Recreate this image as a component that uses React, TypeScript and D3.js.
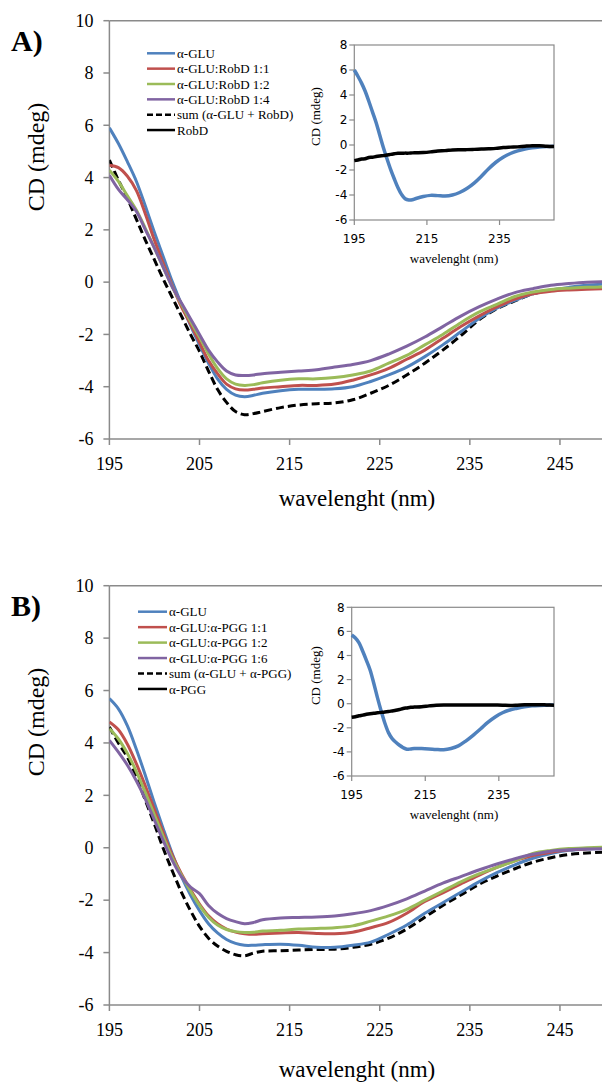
import React, { useEffect, useRef } from 'react';
import * as d3 from 'd3';

// wavelength grid (nm)
const WL = [195, 196, 197, 198, 199, 200, 201, 202, 203, 204, 205, 206, 207, 208, 209, 210, 211, 212,
  214, 216, 218, 220, 222, 224, 226, 228, 230, 232, 234, 236, 238, 240, 242, 244, 246, 248, 250];

const X_TICKS = [195, 205, 215, 225, 235, 245];
const Y_TICKS = [-6, -4, -2, 0, 2, 4, 6, 8, 10];
const INSET_X_TICKS = [195, 215, 235];
const INSET_Y_TICKS = [-6, -4, -2, 0, 2, 4, 6, 8];

// panel A
const A_GLU = [5.9, 5.3, 4.6, 3.85, 2.9, 1.9, 0.95, 0.0, -0.85, -1.65, -2.4, -3.1, -3.7, -4.1, -4.32, -4.38, -4.33, -4.25,
  -4.15, -4.1, -4.1, -4.08, -4.0, -3.8, -3.55, -3.25, -2.85, -2.4, -1.9, -1.4, -1.0, -0.7, -0.45, -0.3, -0.2, -0.12, -0.08];
const A_ROB11 = [4.47, 4.38, 4.05, 3.5, 2.6, 1.6, 0.7, -0.15, -0.95, -1.6, -2.3, -3.0, -3.5, -3.9, -4.08, -4.13, -4.1, -4.05,
  -4.0, -3.95, -3.95, -3.9, -3.75, -3.55, -3.3, -2.95, -2.6, -2.15, -1.7, -1.3, -0.95, -0.65, -0.45, -0.35, -0.3, -0.27, -0.25];
const A_ROB12 = [4.28, 3.85, 3.3, 2.75, 2.05, 1.3, 0.55, -0.2, -0.85, -1.5, -2.1, -2.75, -3.3, -3.7, -3.9, -3.95, -3.92, -3.85,
  -3.75, -3.7, -3.7, -3.65, -3.55, -3.4, -3.1, -2.8, -2.4, -2.0, -1.55, -1.15, -0.85, -0.55, -0.38, -0.28, -0.23, -0.2, -0.18];
const A_ROB14 = [4.09, 3.55, 3.15, 2.7, 2.0, 1.3, 0.55, -0.2, -0.8, -1.4, -2.0, -2.6, -3.05, -3.4, -3.55, -3.57, -3.55, -3.5,
  -3.45, -3.4, -3.35, -3.25, -3.15, -3.0, -2.75, -2.45, -2.1, -1.7, -1.3, -0.95, -0.65, -0.4, -0.25, -0.12, -0.05, 0.0, 0.02];
const A_SUM = [4.67, 3.9, 3.2, 2.4, 1.6, 0.85, 0.1, -0.6, -1.3, -2.0, -2.65, -3.4, -4.1, -4.6, -4.95, -5.07, -5.03, -4.95,
  -4.8, -4.7, -4.65, -4.62, -4.5, -4.25, -3.95, -3.55, -3.1, -2.6, -2.05, -1.45, -1.02, -0.72, -0.45, -0.32, -0.26, -0.22, -0.2];
const A_INSET_GLU = [6.0, 5.5, 4.95, 4.3, 3.5, 2.65, 1.8, 0.8, -0.2, -1.1, -1.95, -2.7, -3.4, -3.95, -4.3, -4.4, -4.38, -4.28,
  -4.12, -4.03, -4.05, -4.08, -4.0, -3.8, -3.48, -3.05, -2.5, -1.9, -1.38, -0.98, -0.68, -0.47, -0.33, -0.23, -0.17, -0.13, -0.1];
const A_INSET_ROBD = [-1.25, -1.2, -1.12, -1.1, -1.0, -0.98, -0.92, -0.88, -0.85, -0.8, -0.75, -0.7, -0.66, -0.66, -0.65, -0.65, -0.63, -0.62,
  -0.6, -0.55, -0.48, -0.45, -0.4, -0.38, -0.37, -0.35, -0.32, -0.3, -0.27, -0.2, -0.17, -0.15, -0.1, -0.06, -0.06, -0.1, -0.12];
const A_LEGEND = ['α-GLU', 'α-GLU:RobD 1:1', 'α-GLU:RobD 1:2', 'α-GLU:RobD 1:4', 'sum (α-GLU + RobD)', 'RobD'];

// panel B
const B_GLU = [5.69, 5.3, 4.65, 3.75, 2.75, 1.7, 0.7, -0.25, -1.1, -1.8, -2.4, -2.9, -3.25, -3.5, -3.65, -3.72, -3.72, -3.7,
  -3.68, -3.72, -3.8, -3.8, -3.72, -3.6, -3.3, -2.95, -2.5, -2.1, -1.7, -1.3, -0.95, -0.65, -0.4, -0.22, -0.1, -0.05, -0.03];
const B_PGG11 = [4.8, 4.5, 3.95, 3.2, 2.35, 1.45, 0.55, -0.3, -1.0, -1.6, -2.15, -2.6, -2.9, -3.1, -3.22, -3.28, -3.3, -3.28,
  -3.25, -3.23, -3.27, -3.28, -3.22, -3.05, -2.85, -2.5, -2.05, -1.72, -1.38, -1.05, -0.75, -0.5, -0.3, -0.17, -0.08, -0.04, -0.02];
const B_PGG12 = [4.55, 4.15, 3.6, 2.9, 2.1, 1.25, 0.4, -0.4, -1.05, -1.65, -2.2, -2.65, -2.95, -3.12, -3.2, -3.23, -3.22, -3.18,
  -3.15, -3.1, -3.08, -3.05, -2.98, -2.8, -2.6, -2.35, -2.0, -1.65, -1.3, -1.0, -0.75, -0.5, -0.22, -0.1, -0.03, 0.0, 0.02];
const B_PGG16 = [4.1, 3.65, 3.15, 2.55, 1.85, 1.05, 0.25, -0.5, -1.1, -1.5, -1.75, -2.2, -2.5, -2.7, -2.82, -2.9, -2.85, -2.75,
  -2.68, -2.66, -2.64, -2.6, -2.52, -2.4, -2.2, -1.95, -1.65, -1.35, -1.1, -0.85, -0.62, -0.42, -0.25, -0.13, -0.08, -0.05, -0.04];
const B_SUM = [4.61, 4.0, 3.45, 2.7, 1.8, 0.9, -0.05, -0.9, -1.7, -2.4, -3.0, -3.45, -3.75, -3.95, -4.08, -4.12, -4.02, -3.95,
  -3.93, -3.9, -3.88, -3.87, -3.8, -3.68, -3.45, -3.1, -2.65, -2.2, -1.8, -1.4, -1.08, -0.8, -0.55, -0.38, -0.26, -0.2, -0.17];
const B_INSET_GLU = [5.7, 5.45, 5.05, 4.35, 3.6, 2.8, 1.7, 0.5, -0.6, -1.6, -2.4, -2.9, -3.2, -3.45, -3.65, -3.78, -3.76, -3.72,
  -3.72, -3.75, -3.8, -3.82, -3.72, -3.5, -3.1, -2.62, -2.1, -1.55, -1.1, -0.75, -0.52, -0.38, -0.26, -0.18, -0.14, -0.12, -0.1];
const B_INSET_PGG = [-1.13, -1.08, -1.0, -0.95, -0.88, -0.83, -0.8, -0.76, -0.72, -0.68, -0.65, -0.6, -0.55, -0.48, -0.4, -0.35, -0.3, -0.28,
  -0.25, -0.18, -0.12, -0.1, -0.11, -0.11, -0.11, -0.11, -0.1, -0.1, -0.11, -0.12, -0.14, -0.12, -0.09, -0.08, -0.08, -0.1, -0.12];
const B_LEGEND = ['α-GLU', 'α-GLU:α-PGG 1:1', 'α-GLU:α-PGG 1:2', 'α-GLU:α-PGG 1:6', 'sum (α-GLU + α-PGG)', 'α-PGG'];

const COLORS = ['#4F81BD', '#C0504D', '#9BBB59', '#8064A2', '#000000', '#000000'];
const AXIS = '#8a8a8a';
const SERIF = '"Liberation Serif", "Times New Roman", serif';
const SANS = '"DejaVu Sans", sans-serif';

const panels = [
  {
    tag: 'A)',
    series: [A_GLU, A_ROB11, A_ROB12, A_ROB14, A_SUM],
    inset: [A_INSET_GLU, A_INSET_ROBD],
    legend: A_LEGEND,
    main: { x0: 109.4, x1: 605, yTop: 20.7, yBot: 439 },
    ins: { x0: 354.3, x1: 554, yTop: 45, yBot: 220 },
    leg: { x0: 147, x1: 175, y: 53.3, step: 15.35 },
    yTitleY: 157, xTitleY: 506,
  },
  {
    tag: 'B)',
    series: [B_GLU, B_PGG11, B_PGG12, B_PGG16, B_SUM],
    inset: [B_INSET_GLU, B_INSET_PGG],
    legend: B_LEGEND,
    main: { x0: 109.4, x1: 605, yTop: 585.7, yBot: 1005 },
    ins: { x0: 351.7, x1: 554, yTop: 607.3, yBot: 776 },
    leg: { x0: 138, x1: 167, y: 611.7, step: 15.45 },
    yTitleY: 722, xTitleY: 1077,
  },
];

export default function App() {
  const svgRef = useRef<SVGSVGElement>(null);

  useEffect(() => {
    const svg = d3.select(svgRef.current);
    svg.selectAll('*').remove();

    panels.forEach((p) => {
      const g = svg.append('g');
      const x = d3.scaleLinear().domain([195, 250]).range([p.main.x0, p.main.x1]);
      const y = d3.scaleLinear().domain([-6, 10]).range([p.main.yBot, p.main.yTop]);

      // plot border (top) + axes
      g.append('line').attr('x1', p.main.x0).attr('x2', 602).attr('y1', p.main.yTop).attr('y2', p.main.yTop)
        .attr('stroke', AXIS).attr('stroke-width', 1.5);
      g.append('line').attr('x1', p.main.x0).attr('x2', p.main.x0).attr('y1', p.main.yTop).attr('y2', p.main.yBot)
        .attr('stroke', AXIS).attr('stroke-width', 1.5);
      g.append('line').attr('x1', p.main.x0).attr('x2', 602).attr('y1', p.main.yBot).attr('y2', p.main.yBot)
        .attr('stroke', AXIS).attr('stroke-width', 1.5);

      Y_TICKS.forEach((t) => {
        g.append('line').attr('x1', p.main.x0 - 6).attr('x2', p.main.x0).attr('y1', y(t)).attr('y2', y(t))
          .attr('stroke', AXIS).attr('stroke-width', 1.5);
        g.append('text').attr('x', p.main.x0 - 16).attr('y', y(t)).attr('dy', '0.35em')
          .attr('text-anchor', 'end').attr('font-family', SERIF).attr('font-size', 18).text(t);
      });
      X_TICKS.forEach((t) => {
        g.append('line').attr('x1', x(t)).attr('x2', x(t)).attr('y1', p.main.yBot).attr('y2', p.main.yBot + 6)
          .attr('stroke', AXIS).attr('stroke-width', 1.5);
        g.append('text').attr('x', x(t)).attr('y', p.main.yBot + 31)
          .attr('text-anchor', 'middle').attr('font-family', SERIF).attr('font-size', 18).text(t);
      });

      g.append('text').attr('x', 357).attr('y', p.xTitleY).attr('text-anchor', 'middle')
        .attr('font-family', SERIF).attr('font-size', 23).text('wavelenght (nm)');
      g.append('text').attr('transform', `translate(44,${p.yTitleY}) rotate(-90)`).attr('text-anchor', 'middle')
        .attr('font-family', SERIF).attr('font-size', 24).text('CD (mdeg)');
      g.append('text').attr('x', 11).attr('y', p.main.yTop + 30)
        .attr('font-family', SERIF).attr('font-size', 30).attr('font-weight', 'bold').text(p.tag);

      // main curves
      const clipId = `clip-${p.tag[0]}`;
      g.append('clipPath').attr('id', clipId).append('rect')
        .attr('x', p.main.x0).attr('y', p.main.yTop).attr('width', 602 - p.main.x0).attr('height', p.main.yBot - p.main.yTop);
      const line = d3.line<number>().x((_, i) => x(WL[i])).y((d) => y(d)).curve(d3.curveCatmullRom.alpha(0.5));
      const order = [4, 0, 1, 2, 3];
      order.forEach((si) => {
        g.append('path').datum(p.series[si]).attr('d', line)
          .attr('clip-path', `url(#${clipId})`)
          .attr('fill', 'none').attr('stroke', COLORS[si]).attr('stroke-width', 3)
          .attr('stroke-dasharray', si === 4 ? '8,4' : null);
      });

      // legend
      p.legend.forEach((label, i) => {
        const ly = p.leg.y + i * p.leg.step;
        g.append('line').attr('x1', p.leg.x0).attr('x2', p.leg.x1).attr('y1', ly).attr('y2', ly)
          .attr('stroke', COLORS[i]).attr('stroke-width', 2.5)
          .attr('stroke-dasharray', i === 4 ? '6,3' : null);
        g.append('text').attr('x', p.leg.x1 + 2).attr('y', ly).attr('dy', '0.35em')
          .attr('font-family', SERIF).attr('font-size', 13).text(label);
      });

      // inset
      const ix = d3.scaleLinear().domain([195, 250]).range([p.ins.x0, p.ins.x1]);
      const iy = d3.scaleLinear().domain([-6, 8]).range([p.ins.yBot, p.ins.yTop]);
      g.append('rect').attr('x', p.ins.x0).attr('y', p.ins.yTop)
        .attr('width', p.ins.x1 - p.ins.x0).attr('height', p.ins.yBot - p.ins.yTop)
        .attr('fill', '#fff').attr('stroke', AXIS).attr('stroke-width', 1.2);
      INSET_Y_TICKS.forEach((t) => {
        g.append('line').attr('x1', p.ins.x0 - 5).attr('x2', p.ins.x0).attr('y1', iy(t)).attr('y2', iy(t))
          .attr('stroke', AXIS).attr('stroke-width', 1.2);
        g.append('text').attr('x', p.ins.x0 - 7).attr('y', iy(t)).attr('dy', '0.35em')
          .attr('text-anchor', 'end').attr('font-family', SANS).attr('font-size', 12).text(t);
      });
      INSET_X_TICKS.forEach((t) => {
        g.append('line').attr('x1', ix(t)).attr('x2', ix(t)).attr('y1', p.ins.yBot).attr('y2', p.ins.yBot + 5)
          .attr('stroke', AXIS).attr('stroke-width', 1.2);
        g.append('text').attr('x', ix(t)).attr('y', p.ins.yBot + 23)
          .attr('text-anchor', 'middle').attr('font-family', SANS).attr('font-size', 12).text(t);
      });
      g.append('text').attr('x', 454).attr('y', p.ins.yBot + 43).attr('text-anchor', 'middle')
        .attr('font-family', SERIF).attr('font-size', 13).text('wavelenght (nm)');
      g.append('text').attr('transform', `translate(320,${(p.ins.yTop + p.ins.yBot) / 2 - 16}) rotate(-90)`)
        .attr('text-anchor', 'middle').attr('font-family', SERIF).attr('font-size', 13).text('CD (mdeg)');

      const iline = d3.line<number>().x((_, i) => ix(WL[i])).y((d) => iy(d)).curve(d3.curveCatmullRom.alpha(0.5));
      g.append('path').datum(p.inset[0]).attr('d', iline)
        .attr('fill', 'none').attr('stroke', COLORS[0]).attr('stroke-width', 3.5);
      g.append('path').datum(p.inset[1]).attr('d', iline)
        .attr('fill', 'none').attr('stroke', '#000').attr('stroke-width', 3.5);
    });
  }, []);

  return (
    <div style={{ width: 602, height: 1083, overflow: 'hidden', background: '#fff' }}>
      <style>{'body{margin:0}'}</style>
      <svg ref={svgRef} width={602} height={1083}></svg>
    </div>
  );
}
